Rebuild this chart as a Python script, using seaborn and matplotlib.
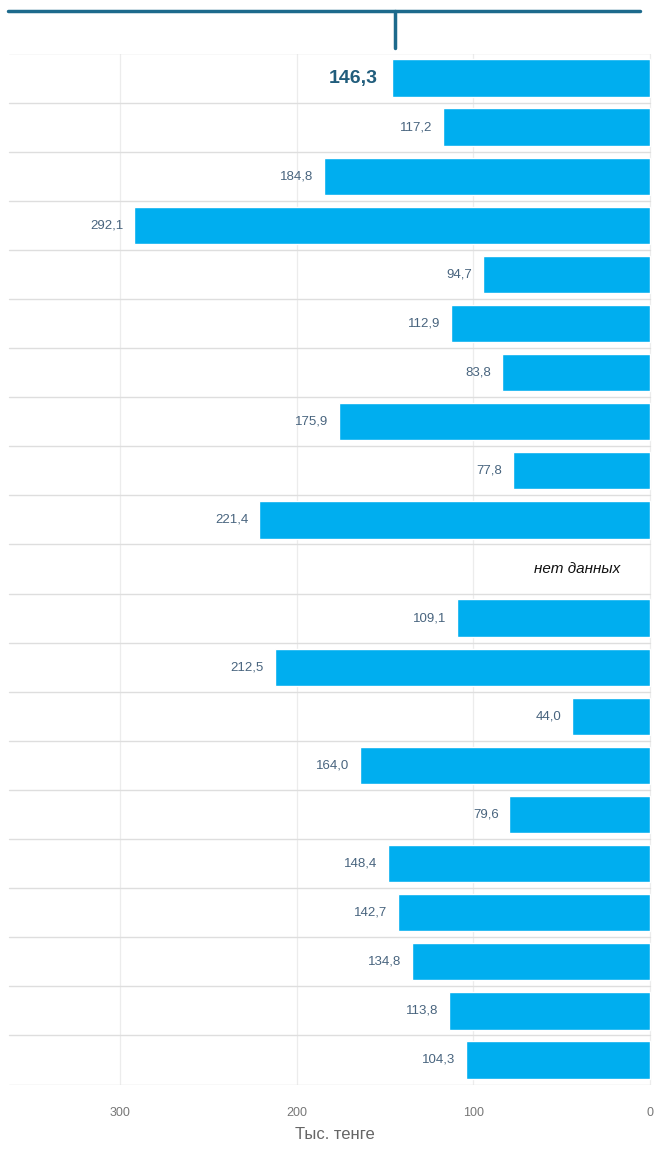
import seaborn as sns
import matplotlib.pyplot as plt
import pandas as pd
from matplotlib.lines import Line2D

# values per row, top to bottom (None = no data)
rows = list(range(21))
values = [146.3, 117.2, 184.8, 292.1, 94.7, 112.9, 83.8, 175.9, 77.8, 221.4,
          None, 109.1, 212.5, 44.0, 164.0, 79.6, 148.4, 142.7, 134.8, 113.8, 104.3]
ticks = [300, 200, 100, 0]
tick_labels = ["300", "200", "100", "0"]

df = pd.DataFrame({"row": rows, "value": values})
df["row"] = df["row"].astype(str)

sns.set_style("white")
plt.rcParams['font.family'] = ['Arial', 'Liberation Sans', 'DejaVu Sans']

fig = plt.figure(figsize=(6.7, 11.52), dpi=100)
ax = fig.add_axes([0, 1 - 1084.5 / 1152, 1, (1084.5 - 53.5) / 1152])

sns.barplot(data=df, x="value", y="row", orient="h", color="#00aeef",
            saturation=1, width=0.76, ax=ax)

ax.set_xlim(367.9, -11.3)
ax.set_ylim(20.5, -0.5)

# grid: vertical tick lines and row separators
for t in ticks:
    ax.axvline(t, color="#ececec", lw=0.9, zorder=0)
for i in range(22):
    ax.plot([363, 0], [i - 0.5, i - 0.5], color="#dedede", lw=1.0, zorder=0)

for i, v in enumerate(values):
    if v is None:
        ax.text(17, i, "нет данных", ha="right", va="center", fontsize=11,
                style="italic", color="#111111")
    elif i == 0:
        ax.text(v + 8, i, f"{v:.1f}".replace(".", ","), ha="right", va="center",
                fontsize=14, fontweight="bold", color="#215d7c")
    else:
        ax.text(v + 6, i, f"{v:.1f}".replace(".", ","), ha="right", va="center",
                fontsize=9.5, color="#48647e")

ax.set_yticks([])
ax.set_ylabel("")
ax.set_xticks(ticks)
ax.set_xticklabels(tick_labels, fontsize=9, color="#777777")
ax.tick_params(axis="x", length=0, pad=16)
ax.set_xlabel("Тыс. тенге", fontsize=12, color="#666666", labelpad=6)
for s in ax.spines.values():
    s.set_visible(False)

# header bracket
fig.add_artist(Line2D([8 / 670, 640 / 670], [1 - 11 / 1152, 1 - 11 / 1152],
                      color="#1d6a8c", lw=2.5))
fig.add_artist(Line2D([395 / 670, 395 / 670], [1 - 11 / 1152, 1 - 48 / 1152],
                      color="#1d6a8c", lw=2.5))

fig.savefig("out.png", dpi=100)
